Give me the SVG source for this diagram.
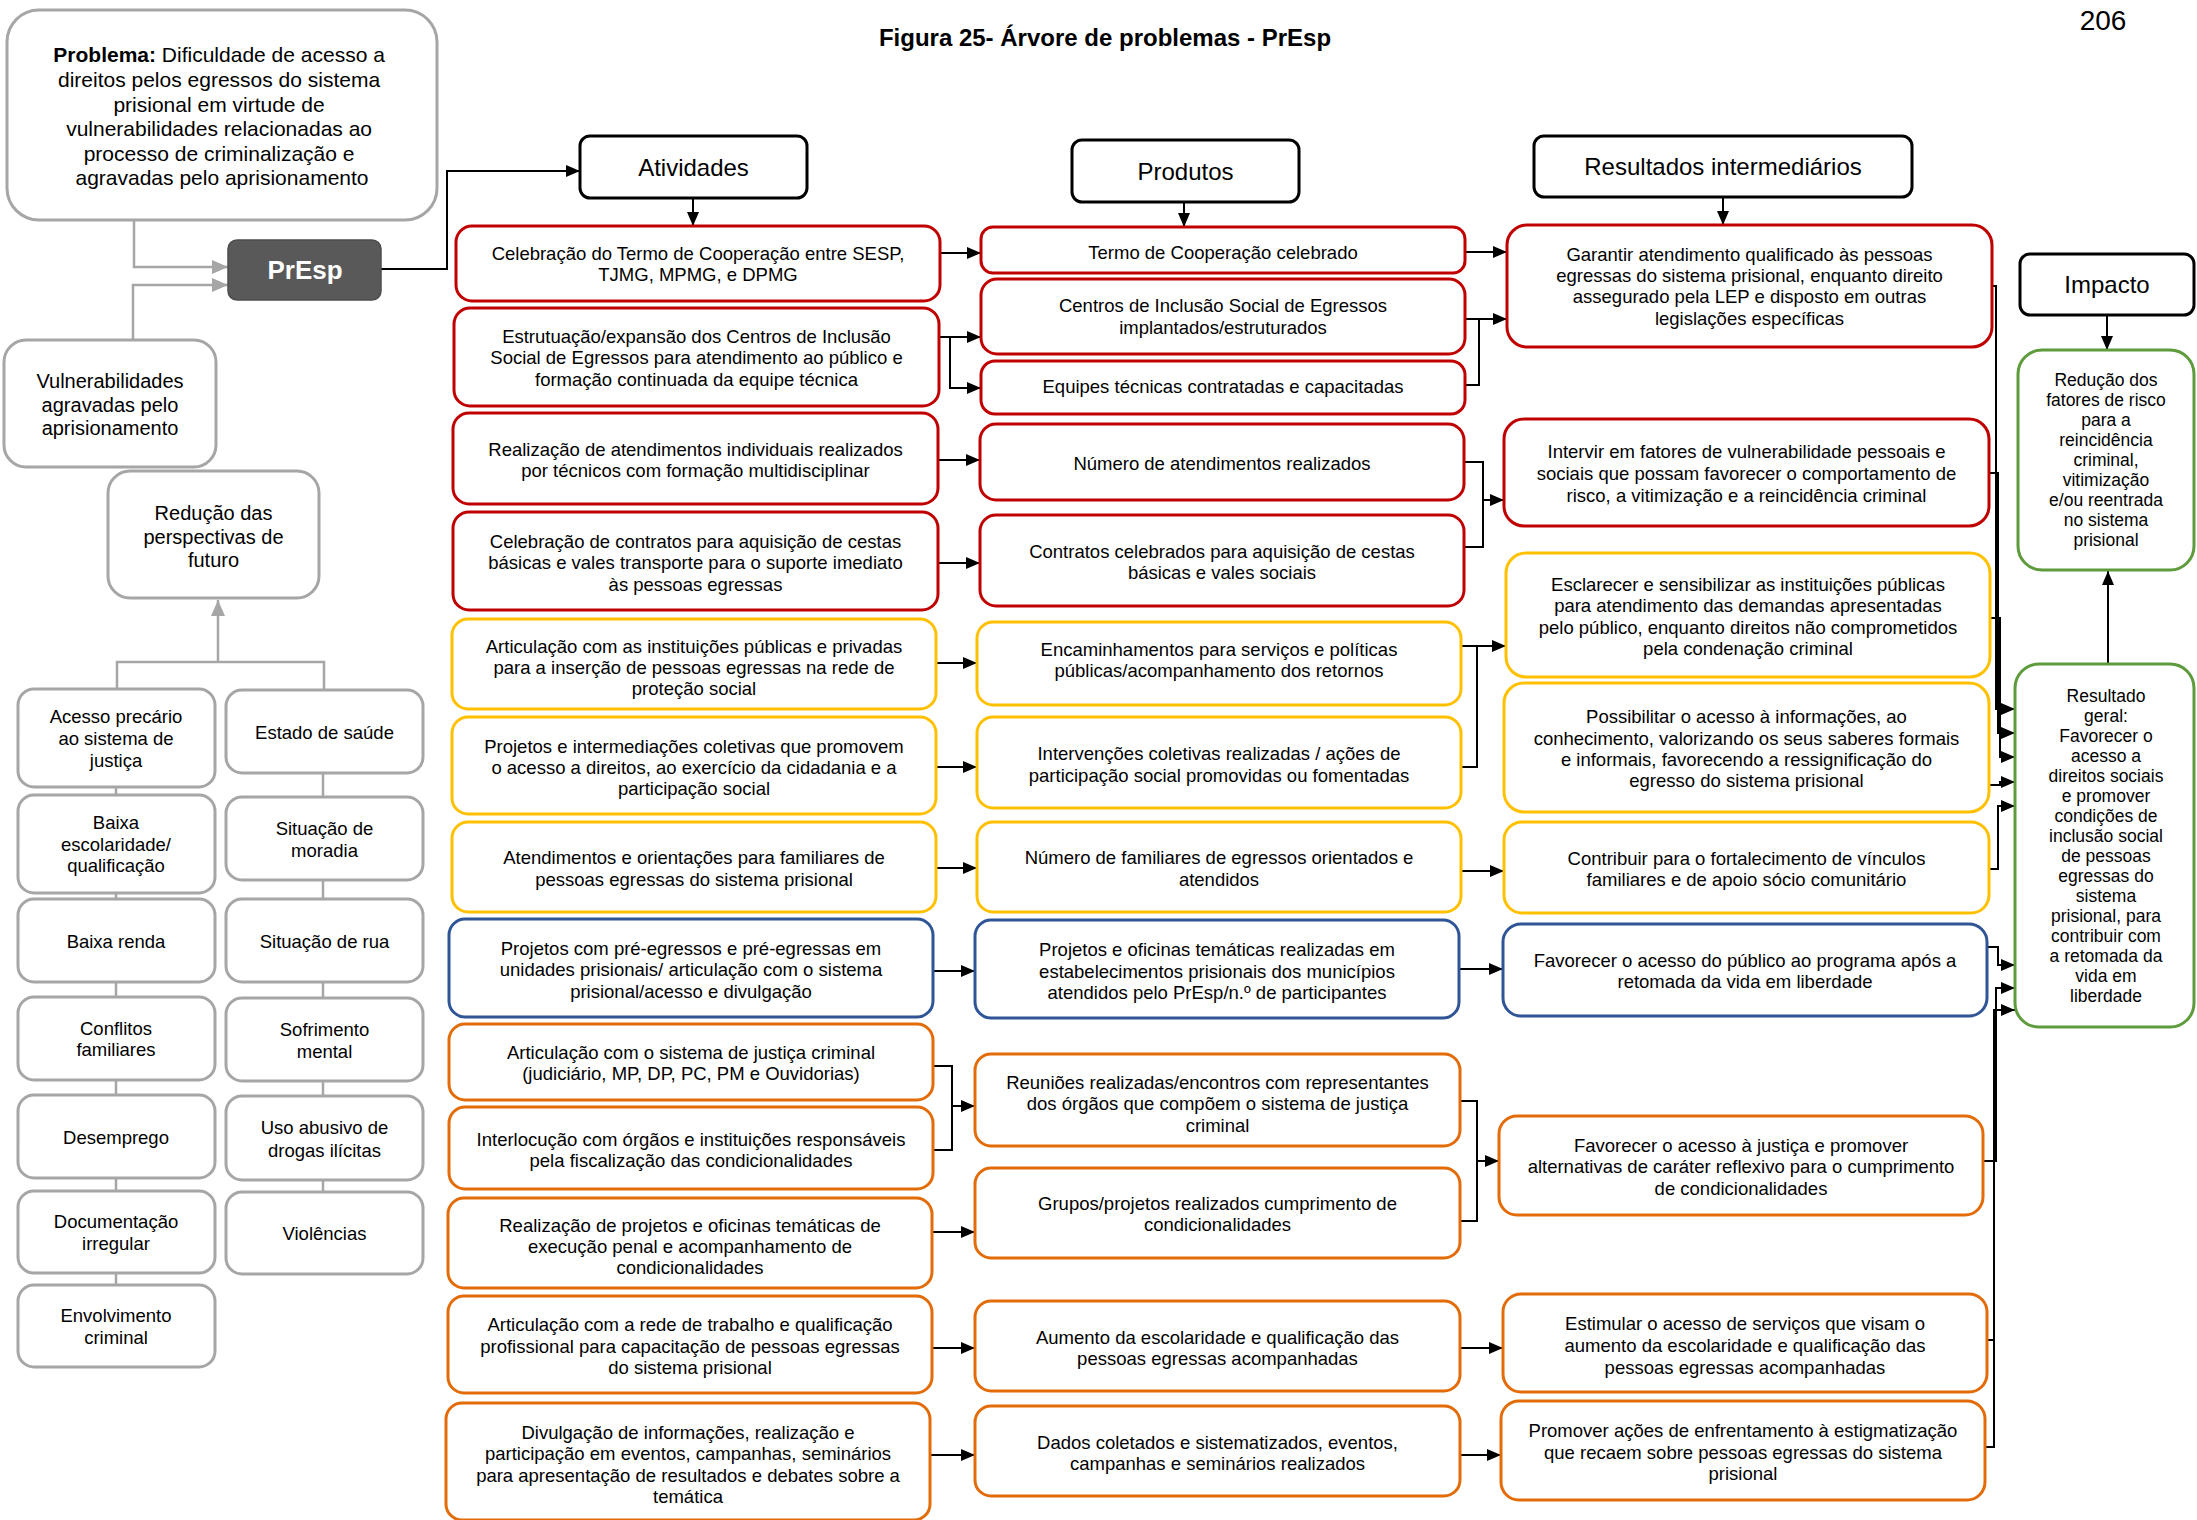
<svg xmlns="http://www.w3.org/2000/svg" width="2197" height="1520" viewBox="0 0 2197 1520">
<style>
text{font-family:"Liberation Sans",Arial,sans-serif;fill:#000;text-anchor:middle}
.t{font-size:18.5px}
.s{font-size:17.5px}
.l{font-size:18.5px}
.h{font-size:24px}
.bx{fill:#fff;stroke-width:3}
.red{stroke:#C00000}
.yel{stroke:#FFC000}
.blu{stroke:#2F5597}
.org{stroke:#E36C09}
.grn{stroke:#5E9B3C}
.gry{stroke:#A6A6A6}
.hdr{stroke:#000}
.c{fill:none;stroke:#000;stroke-width:2}
.ca{fill:none;stroke:#000;stroke-width:2;marker-end:url(#ah)}
.g{fill:none;stroke:#A6A6A6;stroke-width:2.5}
.ga{fill:none;stroke:#A6A6A6;stroke-width:2.5;marker-end:url(#gh)}
</style>
<defs>
<marker id="ah" markerUnits="userSpaceOnUse" markerWidth="14" markerHeight="14" viewBox="0 0 14 14" refX="14" refY="7" orient="auto"><path d="M0,1 L14,7 L0,13 z" fill="#000"/></marker>
<marker id="gh" markerUnits="userSpaceOnUse" markerWidth="16" markerHeight="16" viewBox="0 0 16 16" refX="16" refY="8" orient="auto"><path d="M0,1 L16,8 L0,15 z" fill="#A6A6A6"/></marker>
</defs>
<rect width="2197" height="1520" fill="#fff"/>
<text x="1105" y="46" style="font-size:24px;font-weight:bold">Figura 25- Árvore de problemas - PrEsp</text>
<text x="2103" y="30" style="font-size:28px">206</text>

<g id="connectors">
<path class="ga" d="M134,220 V267 H228"/>
<path class="ga" d="M133,340 V285 H228"/>
<path class="g" d="M117,688 V662 H324 V690"/>
<path class="ga" d="M218,662 V600"/>
<path class="g" d="M116,787 V795 M116,893 V899 M116,982 V997 M116,1080 V1095 M116,1178 V1191 M116,1273 V1285"/>
<path class="g" d="M323,773 V797 M323,880 V899 M323,982 V998 M323,1081 V1096 M323,1180 V1192"/>
<path class="ca" d="M381,269 H447 V171 H580"/>
<path class="ca" d="M693,198 V226"/>
<path class="ca" d="M1184,202 V227"/>
<path class="ca" d="M1723,197 V225"/>
<path class="ca" d="M2107,315 V350"/>
<path class="ca" d="M2108,664 V571"/>
<path class="ca" d="M940,253 H981"/>
<path class="ca" d="M939,337 H981"/>
<path class="ca" d="M950,337 V388 H981"/>
<path class="ca" d="M938,460 H980"/>
<path class="ca" d="M938,563 H980"/>
<path class="ca" d="M936,663 H977"/>
<path class="ca" d="M936,767 H977"/>
<path class="ca" d="M936,868 H977"/>
<path class="ca" d="M933,971 H975"/>
<path class="c" d="M933,1066 H952 V1150 H933"/>
<path class="ca" d="M952,1106 H975"/>
<path class="ca" d="M932,1232 H975"/>
<path class="ca" d="M932,1348 H975"/>
<path class="ca" d="M930,1455 H975"/>
<path class="ca" d="M1465,252 H1507"/>
<path class="ca" d="M1465,319 H1507"/>
<path class="c" d="M1465,385 H1479 V319"/>
<path class="c" d="M1464,462 H1483 V547 H1464"/>
<path class="ca" d="M1483,500 H1504"/>
<path class="ca" d="M1461,646 H1506"/>
<path class="c" d="M1461,767 H1477 V646"/>
<path class="ca" d="M1461,871 H1504"/>
<path class="ca" d="M1459,969 H1503"/>
<path class="c" d="M1460,1101 H1477 V1221 H1460"/>
<path class="ca" d="M1477,1161 H1499"/>
<path class="ca" d="M1460,1348 H1503"/>
<path class="ca" d="M1460,1455 H1501"/>
<path class="ca" d="M1992,286 H1996 V709 H2015"/>
<path class="ca" d="M1989,473 H1998 V733 H2015"/>
<path class="ca" d="M1990,618 H2000 V757 H2015"/>
<path class="ca" d="M1989,785 H2000 V782 H2015"/>
<path class="ca" d="M1989,869 H1998 V806 H2015"/>
<path class="ca" d="M1987,947 H1998 V965 H2015"/>
<path class="ca" d="M1983,1161 H1996 V988 H2015"/>
<path class="ca" d="M1987,1340 H1994 V1010 H2015"/>
<path class="c" d="M1985,1447 H1994 V1340"/>
</g>

<g id="problema">
<rect class="bx gry" x="7" y="10" width="430" height="210" rx="32"/>
<text style="font-size:21px">
<tspan x="222" y="61.5"><tspan font-weight="bold">Problema:</tspan> Dificuldade de acesso a</tspan>
<tspan x="222" y="86.5">direitos pelos egressos do sistema</tspan>
<tspan x="222" y="111.5">prisional em virtude de</tspan>
<tspan x="222" y="136">vulnerabilidades relacionadas ao</tspan>
<tspan x="222" y="160.5">processo de criminalização e</tspan>
<tspan x="222" y="185">agravadas pelo aprisionamento</tspan>
</text>
</g>
<g id="presp">
<rect x="228" y="240" width="153" height="60" rx="9" fill="#595959" stroke="#4d4d4d" stroke-width="1.5"/>
<text x="305" y="279" style="font-size:26px;font-weight:bold;fill:#fff">PrEsp</text>
</g>
<g id="vulnerabilidades">
<rect class="bx gry" x="4" y="340" width="212" height="127" rx="22"/>
<text style="font-size:20px"><tspan x="110" y="388">Vulnerabilidades</tspan><tspan x="110" y="412">agravadas pelo</tspan><tspan x="110" y="435">aprisionamento</tspan></text>
</g>
<g id="reducao">
<rect class="bx gry" x="108" y="471" width="211" height="127" rx="22"/>
<text style="font-size:20px"><tspan x="213.5" y="520">Redução das</tspan><tspan x="213.5" y="544">perspectivas de</tspan><tspan x="213.5" y="567">futuro</tspan></text>
</g>

<g id="acesso"><rect class="bx gry" x="18" y="689" width="197" height="98" rx="16"/><text class="l"><tspan x="116" y="722.5">Acesso precário</tspan><tspan x="116" y="744.5">ao sistema de</tspan><tspan x="116" y="766.5">justiça</tspan></text></g>
<g id="escolaridade"><rect class="bx gry" x="18" y="795" width="197" height="98" rx="16"/><text class="l"><tspan x="116" y="828.5">Baixa</tspan><tspan x="116" y="850.5">escolaridade/</tspan><tspan x="116" y="871.5">qualificação</tspan></text></g>
<g id="renda"><rect class="bx gry" x="18" y="899" width="197" height="83" rx="16"/><text class="l" x="116" y="947.5">Baixa renda</text></g>
<g id="conflitos"><rect class="bx gry" x="18" y="997" width="197" height="83" rx="16"/><text class="l"><tspan x="116" y="1034.5">Conflitos</tspan><tspan x="116" y="1055.5">familiares</tspan></text></g>
<g id="desemprego"><rect class="bx gry" x="18" y="1095" width="197" height="83" rx="16"/><text class="l" x="116" y="1143.5">Desemprego</text></g>
<g id="documentacao"><rect class="bx gry" x="18" y="1191" width="197" height="82" rx="16"/><text class="l"><tspan x="116" y="1227.5">Documentação</tspan><tspan x="116" y="1249.5">irregular</tspan></text></g>
<g id="envolvimento"><rect class="bx gry" x="18" y="1285" width="197" height="82" rx="16"/><text class="l"><tspan x="116" y="1321.5">Envolvimento</tspan><tspan x="116" y="1343.5">criminal</tspan></text></g>
<g id="saude"><rect class="bx gry" x="226" y="690" width="197" height="83" rx="16"/><text class="l" x="324.5" y="738.5">Estado de saúde</text></g>
<g id="moradia"><rect class="bx gry" x="226" y="797" width="197" height="83" rx="16"/><text class="l"><tspan x="324.5" y="834.5">Situação de</tspan><tspan x="324.5" y="856.5">moradia</tspan></text></g>
<g id="rua"><rect class="bx gry" x="226" y="899" width="197" height="83" rx="16"/><text class="l" x="324.5" y="947.5">Situação de rua</text></g>
<g id="sofrimento"><rect class="bx gry" x="226" y="998" width="197" height="83" rx="16"/><text class="l"><tspan x="324.5" y="1035.5">Sofrimento</tspan><tspan x="324.5" y="1057.5">mental</tspan></text></g>
<g id="drogas"><rect class="bx gry" x="226" y="1096" width="197" height="84" rx="16"/><text class="l"><tspan x="324.5" y="1133.5">Uso abusivo de</tspan><tspan x="324.5" y="1156.5">drogas ilícitas</tspan></text></g>
<g id="violencias"><rect class="bx gry" x="226" y="1192" width="197" height="82" rx="16"/><text class="l" x="324.5" y="1239.5">Violências</text></g>

<g id="h-atividades"><rect class="bx hdr" x="580" y="136" width="227" height="62" rx="10"/><text class="h" x="693.5" y="175.5">Atividades</text></g>
<g id="h-produtos"><rect class="bx hdr" x="1072" y="140" width="227" height="62" rx="10"/><text class="h" x="1185.5" y="179.5">Produtos</text></g>
<g id="h-resultados"><rect class="bx hdr" x="1534" y="136" width="378" height="61" rx="10"/><text class="h" x="1723" y="175">Resultados intermediários</text></g>
<g id="h-impacto"><rect class="bx hdr" x="2020" y="254" width="174" height="61" rx="10"/><text class="h" x="2107" y="293">Impacto</text></g>

<g id="a1"><rect class="bx red" x="456" y="226" width="484" height="75" rx="16"/><text class="t"><tspan x="698" y="259.5">Celebração do Termo de Cooperação entre SESP,</tspan><tspan x="698" y="280.5">TJMG, MPMG, e DPMG</tspan></text></g>
<g id="a2"><rect class="bx red" x="454" y="308" width="485" height="98" rx="16"/><text class="t"><tspan x="696.5" y="342.5">Estrutuação/expansão dos Centros de Inclusão</tspan><tspan x="696.5" y="363.5">Social de Egressos para atendimento ao público e</tspan><tspan x="696.5" y="385.5">formação continuada da equipe técnica</tspan></text></g>
<g id="a3"><rect class="bx red" x="453" y="413" width="485" height="91" rx="16"/><text class="t"><tspan x="695.5" y="455.5">Realização de atendimentos individuais realizados</tspan><tspan x="695.5" y="476.5">por técnicos com formação multidisciplinar</tspan></text></g>
<g id="a4"><rect class="bx red" x="453" y="512" width="485" height="98" rx="16"/><text class="t"><tspan x="695.5" y="547.5">Celebração de contratos para aquisição de cestas</tspan><tspan x="695.5" y="568.5">básicas e vales transporte para o suporte imediato</tspan><tspan x="695.5" y="590.5">às pessoas egressas</tspan></text></g>
<g id="a5"><rect class="bx yel" x="452" y="619" width="484" height="90" rx="16"/><text class="t"><tspan x="694" y="652.5">Articulação com as instituições públicas e privadas</tspan><tspan x="694" y="673.5">para a inserção de pessoas egressas na rede de</tspan><tspan x="694" y="694.5">proteção social</tspan></text></g>
<g id="a6"><rect class="bx yel" x="452" y="717" width="484" height="97" rx="16"/><text class="t"><tspan x="694" y="752.5">Projetos e intermediações coletivas que promovem</tspan><tspan x="694" y="773.5">o acesso a direitos, ao exercício da cidadania e a</tspan><tspan x="694" y="794.5">participação social</tspan></text></g>
<g id="a7"><rect class="bx yel" x="452" y="822" width="484" height="90" rx="16"/><text class="t"><tspan x="694" y="863.5">Atendimentos e orientações para familiares de</tspan><tspan x="694" y="885.5">pessoas egressas do sistema prisional</tspan></text></g>
<g id="a8"><rect class="bx blu" x="449" y="919" width="484" height="98" rx="16"/><text class="t"><tspan x="691" y="954.5">Projetos com pré-egressos e pré-egressas em</tspan><tspan x="691" y="975.5">unidades prisionais/ articulação com o sistema</tspan><tspan x="691" y="997.5">prisional/acesso e divulgação</tspan></text></g>
<g id="a9"><rect class="bx org" x="449" y="1024" width="484" height="76" rx="16"/><text class="t"><tspan x="691" y="1058.5">Articulação com o sistema de justiça criminal</tspan><tspan x="691" y="1079.5">(judiciário, MP, DP, PC, PM e Ouvidorias)</tspan></text></g>
<g id="a10"><rect class="bx org" x="449" y="1107" width="484" height="82" rx="16"/><text class="t"><tspan x="691" y="1145.5">Interlocução com órgãos e instituições responsáveis</tspan><tspan x="691" y="1166.5">pela fiscalização das condicionalidades</tspan></text></g>
<g id="a11"><rect class="bx org" x="448" y="1198" width="484" height="90" rx="16"/><text class="t"><tspan x="690" y="1231.5">Realização de projetos e oficinas temáticas de</tspan><tspan x="690" y="1252.5">execução penal e acompanhamento de</tspan><tspan x="690" y="1273.5">condicionalidades</tspan></text></g>
<g id="a12"><rect class="bx org" x="448" y="1296" width="484" height="97" rx="16"/><text class="t"><tspan x="690" y="1330.5">Articulação com a rede de trabalho e qualificação</tspan><tspan x="690" y="1352.5">profissional para capacitação de pessoas egressas</tspan><tspan x="690" y="1373.5">do sistema prisional</tspan></text></g>
<g id="a13"><rect class="bx org" x="446" y="1403" width="484" height="117" rx="16"/><text class="t"><tspan x="688" y="1438.5">Divulgação de informações, realização e</tspan><tspan x="688" y="1459.5">participação em eventos, campanhas, seminários</tspan><tspan x="688" y="1481.5">para apresentação de resultados e debates sobre a</tspan><tspan x="688" y="1502.5">temática</tspan></text></g>

<g id="p1"><rect class="bx red" x="981" y="227" width="484" height="46" rx="12"/><text class="t" x="1223" y="259">Termo de Cooperação celebrado</text></g>
<g id="p2"><rect class="bx red" x="981" y="279" width="484" height="75" rx="16"/><text class="t"><tspan x="1223" y="311.5">Centros de Inclusão Social de Egressos</tspan><tspan x="1223" y="333.5">implantados/estruturados</tspan></text></g>
<g id="p3"><rect class="bx red" x="981" y="361" width="484" height="53" rx="14"/><text class="t" x="1223" y="392.5">Equipes técnicas contratadas e capacitadas</text></g>
<g id="p4"><rect class="bx red" x="980" y="424" width="484" height="76" rx="16"/><text class="t" x="1222" y="469.5">Número de atendimentos realizados</text></g>
<g id="p5"><rect class="bx red" x="980" y="515" width="484" height="91" rx="16"/><text class="t"><tspan x="1222" y="557.5">Contratos celebrados para aquisição de cestas</tspan><tspan x="1222" y="578.5">básicas e vales sociais</tspan></text></g>
<g id="p6"><rect class="bx yel" x="977" y="622" width="484" height="83" rx="16"/><text class="t"><tspan x="1219" y="655.5">Encaminhamentos para serviços e políticas</tspan><tspan x="1219" y="676.5">públicas/acompanhamento dos retornos</tspan></text></g>
<g id="p7"><rect class="bx yel" x="977" y="717" width="484" height="91" rx="16"/><text class="t"><tspan x="1219" y="759.5">Intervenções coletivas realizadas / ações de</tspan><tspan x="1219" y="781.5">participação social promovidas ou fomentadas</tspan></text></g>
<g id="p8"><rect class="bx yel" x="977" y="822" width="484" height="90" rx="16"/><text class="t"><tspan x="1219" y="863.5">Número de familiares de egressos orientados e</tspan><tspan x="1219" y="885.5">atendidos</tspan></text></g>
<g id="p9"><rect class="bx blu" x="975" y="920" width="484" height="98" rx="16"/><text class="t"><tspan x="1217" y="955.5">Projetos e oficinas temáticas realizadas em</tspan><tspan x="1217" y="977.5">estabelecimentos prisionais dos municípios</tspan><tspan x="1217" y="998.5">atendidos pelo PrEsp/n.º de participantes</tspan></text></g>
<g id="p10"><rect class="bx org" x="975" y="1054" width="485" height="92" rx="16"/><text class="t"><tspan x="1217.5" y="1088.5">Reuniões realizadas/encontros com representantes</tspan><tspan x="1217.5" y="1109.5">dos órgãos que compõem o sistema de justiça</tspan><tspan x="1217.5" y="1131.5">criminal</tspan></text></g>
<g id="p11"><rect class="bx org" x="975" y="1168" width="485" height="90" rx="16"/><text class="t"><tspan x="1217.5" y="1209.5">Grupos/projetos realizados cumprimento de</tspan><tspan x="1217.5" y="1230.5">condicionalidades</tspan></text></g>
<g id="p12"><rect class="bx org" x="975" y="1301" width="485" height="90" rx="16"/><text class="t"><tspan x="1217.5" y="1343.5">Aumento da escolaridade e qualificação das</tspan><tspan x="1217.5" y="1364.5">pessoas egressas acompanhadas</tspan></text></g>
<g id="p13"><rect class="bx org" x="975" y="1406" width="485" height="90" rx="16"/><text class="t"><tspan x="1217.5" y="1448.5">Dados coletados e sistematizados, eventos,</tspan><tspan x="1217.5" y="1469.5">campanhas e seminários realizados</tspan></text></g>

<g id="r1"><rect class="bx red" x="1507" y="225" width="485" height="122" rx="20"/><text class="t"><tspan x="1749.5" y="260.5">Garantir atendimento qualificado às pessoas</tspan><tspan x="1749.5" y="281.8">egressas do sistema prisional, enquanto direito</tspan><tspan x="1749.5" y="303.2">assegurado pela LEP e disposto em outras</tspan><tspan x="1749.5" y="324.5">legislações específicas</tspan></text></g>
<g id="r2"><rect class="bx red" x="1504" y="419" width="485" height="107" rx="20"/><text class="t"><tspan x="1746.5" y="457.5">Intervir em fatores de vulnerabilidade pessoais e</tspan><tspan x="1746.5" y="479.5">sociais que possam favorecer o comportamento de</tspan><tspan x="1746.5" y="501.5">risco, a vitimização e a reincidência criminal</tspan></text></g>
<g id="r3"><rect class="bx yel" x="1506" y="553" width="484" height="124" rx="20"/><text class="t"><tspan x="1748" y="590.5">Esclarecer e sensibilizar as instituições públicas</tspan><tspan x="1748" y="611.5">para atendimento das demandas apresentadas</tspan><tspan x="1748" y="633.5">pelo público, enquanto direitos não comprometidos</tspan><tspan x="1748" y="654.5">pela condenação criminal</tspan></text></g>
<g id="r4"><rect class="bx yel" x="1504" y="683" width="485" height="129" rx="20"/><text class="t"><tspan x="1746.5" y="722.5">Possibilitar o acesso à informações, ao</tspan><tspan x="1746.5" y="744.5">conhecimento, valorizando os seus saberes formais</tspan><tspan x="1746.5" y="765.5">e informais, favorecendo a ressignificação do</tspan><tspan x="1746.5" y="786.5">egresso do sistema prisional</tspan></text></g>
<g id="r5"><rect class="bx yel" x="1504" y="822" width="485" height="91" rx="18"/><text class="t"><tspan x="1746.5" y="864.5">Contribuir para o fortalecimento de vínculos</tspan><tspan x="1746.5" y="885.5">familiares e de apoio sócio comunitário</tspan></text></g>
<g id="r6"><rect class="bx blu" x="1503" y="924" width="484" height="92" rx="18"/><text class="t"><tspan x="1745" y="966.5">Favorecer o acesso do público ao programa após a</tspan><tspan x="1745" y="988">retomada da vida em liberdade</tspan></text></g>
<g id="r7"><rect class="bx org" x="1499" y="1116" width="484" height="99" rx="18"/><text class="t"><tspan x="1741" y="1151.5">Favorecer o acesso à justiça e promover</tspan><tspan x="1741" y="1173">alternativas de caráter reflexivo para o cumprimento</tspan><tspan x="1741" y="1194.5">de condicionalidades</tspan></text></g>
<g id="r8"><rect class="bx org" x="1503" y="1294" width="484" height="98" rx="18"/><text class="t"><tspan x="1745" y="1329.5">Estimular o acesso de serviços que visam o</tspan><tspan x="1745" y="1351.5">aumento da escolaridade e qualificação das</tspan><tspan x="1745" y="1373.5">pessoas egressas acompanhadas</tspan></text></g>
<g id="r9"><rect class="bx org" x="1501" y="1401" width="484" height="99" rx="18"/><text class="t"><tspan x="1743" y="1436.5">Promover ações de enfrentamento à estigmatização</tspan><tspan x="1743" y="1458.5">que recaem sobre pessoas egressas do sistema</tspan><tspan x="1743" y="1479.5">prisional</tspan></text></g>

<g id="impacto-1"><rect class="bx grn" x="2018" y="350" width="176" height="220" rx="24"/><text class="s"><tspan x="2106" y="386">Redução dos</tspan><tspan x="2106" y="406">fatores de risco</tspan><tspan x="2106" y="426">para a</tspan><tspan x="2106" y="446">reincidência</tspan><tspan x="2106" y="466">criminal,</tspan><tspan x="2106" y="486">vitimização</tspan><tspan x="2106" y="506">e/ou reentrada</tspan><tspan x="2106" y="526">no sistema</tspan><tspan x="2106" y="546">prisional</tspan></text></g>
<g id="resultado-geral"><rect class="bx grn" x="2015" y="664" width="179" height="363" rx="24"/><text class="s"><tspan x="2106" y="702">Resultado</tspan><tspan x="2106" y="722">geral:</tspan><tspan x="2106" y="742">Favorecer o</tspan><tspan x="2106" y="762">acesso a</tspan><tspan x="2106" y="782">direitos sociais</tspan><tspan x="2106" y="802">e promover</tspan><tspan x="2106" y="822">condições de</tspan><tspan x="2106" y="842">inclusão social</tspan><tspan x="2106" y="862">de pessoas</tspan><tspan x="2106" y="882">egressas do</tspan><tspan x="2106" y="902">sistema</tspan><tspan x="2106" y="922">prisional, para</tspan><tspan x="2106" y="942">contribuir com</tspan><tspan x="2106" y="962">a retomada da</tspan><tspan x="2106" y="982">vida em</tspan><tspan x="2106" y="1002">liberdade</tspan></text></g>
</svg>
